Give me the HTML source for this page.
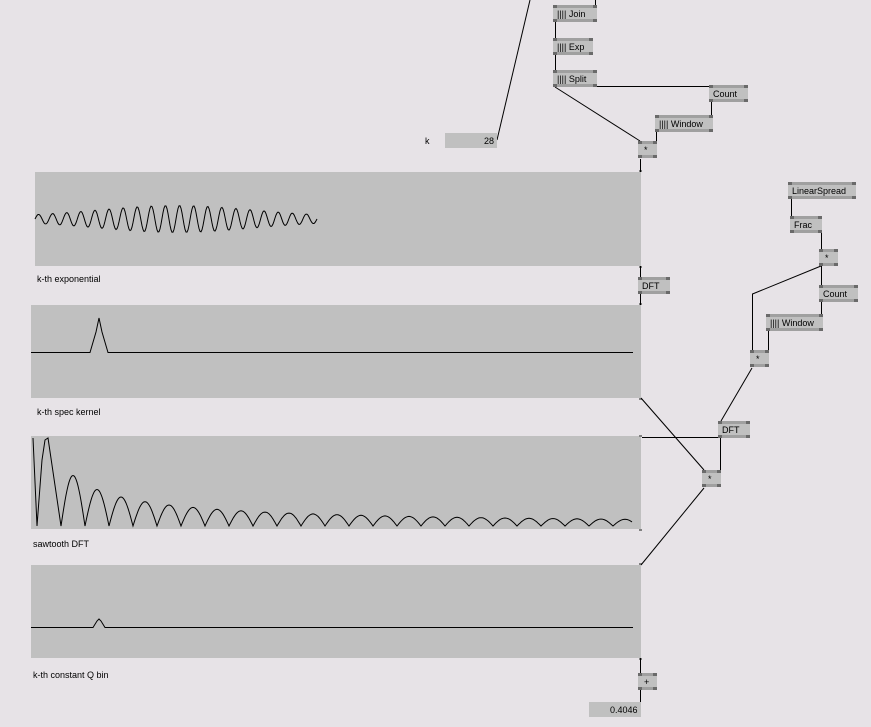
<!DOCTYPE html><html><head><style>body{margin:0;background:#e7e3e7;}svg{display:block}text{font-family:"Liberation Sans",sans-serif;font-size:9px;fill:#000}</style></head><body>
<svg id="s" width="871" height="727" xmlns="http://www.w3.org/2000/svg">
<rect width="871" height="727" fill="#e7e3e7"/>
<g fill="#c0c0c0">
<rect x="35" y="172" width="606" height="94"/>
<rect x="31" y="305" width="610" height="93"/>
<rect x="31" y="436" width="610" height="93"/>
<rect x="31" y="565" width="610" height="93"/>
</g>
<g fill="#808080">
<rect x="639" y="170" width="3" height="2"/><rect x="639" y="266" width="3" height="2"/>
<rect x="639" y="303" width="3" height="2"/><rect x="639" y="398" width="3" height="2"/>
<rect x="639" y="435" width="3" height="2"/><rect x="639" y="529" width="3" height="2"/>
<rect x="639" y="563" width="3" height="2"/><rect x="639" y="658" width="3" height="2"/>
</g>
<text x="37" y="282">k-th exponential</text>
<text x="37" y="415">k-th spec kernel</text>
<text x="33" y="547">sawtooth DFT</text>
<text x="33" y="678">k-th constant Q bin</text>
<g stroke="#000" stroke-width="1" fill="none" id="wires">
<path d="M497 140 L530 0"/><path d="M595.5 0 V5"/>
<path d="M555.5 22 V38"/><path d="M555.5 55 V70"/>
<path d="M555 87 L640 141"/><path d="M597 86.5 H711"/>
<path d="M711.5 102 V115"/><path d="M656.5 132 V141"/>
<path d="M640.5 159 V172"/><path d="M640.5 266 V277"/><path d="M640.5 294 V305"/>
<path d="M641 398 L704 470"/><path d="M642 437.5 H720"/>
<path d="M720.5 438 V470"/><path d="M704 488 L641 565"/>
<path d="M640.5 658 V673"/><path d="M640.5 690 V702"/>
<path d="M791.5 199 V216"/><path d="M821.5 233 V249"/>
<path d="M821.5 266 V285"/><path d="M821 266 L752.5 294 V350"/>
<path d="M821.5 302 V314"/><path d="M768.5 331 V350"/>
<path d="M752 368 L721 421"/>
<path d="M31 352.5 H90 L96 332 L99 318 L102 332 L108 352.5 H633"/>
<path d="M31 627.5 H93 L97 621 L99 619 L101 621 L105 627.5 H633"/>
</g>
<g id="nodes"></g>
<rect x="445" y="133" width="52" height="15" fill="#c0c0c0"/><text x="484" y="144">28</text>
<text x="425" y="144">k</text>
<rect x="589" y="702" width="52" height="15" fill="#c0c0c0"/><text x="610" y="713">0.4046</text>
</svg>
<script>
var s=document.getElementById('s'),ns="http://www.w3.org/2000/svg";
function el(t,a,p){var e=document.createElementNS(ns,t);for(var k in a)e.setAttribute(k,a[k]);(p||s).appendChild(e);return e;}
var N=[[553,5,44,"|||| Join"],[553,38,40,"|||| Exp"],[553,70,44,"|||| Split"],[709,85,39,"Count"],[655,115,58,"|||| Window"],[638,141,19,"*"],
[788,182,68,"LinearSpread"],[790,216,32,"Frac"],[819,249,19,"*"],[819,285,39,"Count"],[766,314,57,"|||| Window"],[750,350,19,"*"],
[718,421,32,"DFT"],[702,470,19,"*"],[638,277,32,"DFT"],[638,673,19,"+"]];
var g=document.getElementById('nodes');
N.forEach(function(n){var x=n[0],y=n[1],w=n[2];
el('rect',{x:x,y:y,width:w,height:17,fill:'#c0c0c0'},g);
el('rect',{x:x,y:y,width:w,height:3,fill:'#a0a0a0'},g);
el('rect',{x:x,y:y+14,width:w,height:3,fill:'#a0a0a0'},g);
[[x,y],[x+w-4,y],[x,y+14],[x+w-4,y+14]].forEach(function(p){el('rect',{x:p[0],y:p[1],width:4,height:3,fill:'#6a6a6a'},g);});
var t=el('text',{x:n[3].length==1?x+6:x+4,y:y+12},g);t.textContent=n[3];});
var d="";for(var x=35;x<=317;x++){var u=(x-35)/282;var env=2.5+11*Math.exp(-Math.pow((u-0.5)/0.38,2));var y=219-env*Math.sin((x-35)/282*2*Math.PI*20);d+=(x==35?"M":"L")+x+" "+y.toFixed(1);}
el('path',{d:d,stroke:'#000',fill:'none'});
d="M33 438 L37 526 L42 460 L45 440 L48 438 L61 526";
for(var n=2;n<30;n++){var x0=37+24*(n-1);var a=88/Math.pow(n,0.8);
for(var i=1;i<=24;i++){if(x0+i>632)break;d+=" L"+(x0+i)+" "+(526-a*Math.sin(Math.PI*i/24)).toFixed(1);}}
el('path',{d:d,stroke:'#000',fill:'none'});
</script>
</body></html>
